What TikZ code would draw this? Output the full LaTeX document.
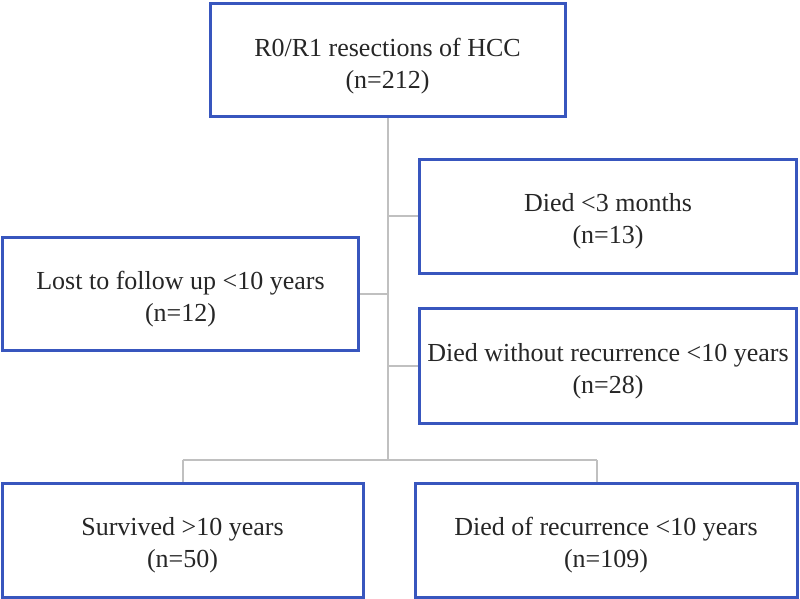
\documentclass[tikz,border=0pt]{standalone}
\usepackage{fontspec}
\setmainfont{Liberation Serif}
\definecolor{boxblue}{RGB}{56,86,190}
\definecolor{linegray}{RGB}{192,192,192}
\newcommand{\twolines}[2]{\begin{tabular}{@{}c@{}}\rule{0pt}{33pt}#1\\#2\end{tabular}}
\begin{document}
\begin{tikzpicture}[x=1pt,y=-1pt,
  box/.style={draw=boxblue, line width=3pt, rectangle, align=center, inner sep=0pt,
    font=\fontsize{26}{32}\selectfont, text=black!85},
  conn/.style={draw=linegray, line width=2pt}]
\useasboundingbox (0,0) rectangle (800,599);
\node[box, minimum width=355, minimum height=113] (top) at (387.5,60.5) {\twolines{R0/R1 resections of HCC}{(n=212)}};
\node[box, minimum width=377, minimum height=114] (d3) at (608,216) {\twolines{Died <3 months}{(n=13)}};
\node[box, minimum width=356, minimum height=113] (lost) at (180.5,293.5) {\twolines{Lost to follow up <10 years}{(n=12)}};
\node[box, minimum width=377, minimum height=115] (dwo) at (608,365.5) {\twolines{Died without recurrence <10 years}{(n=28)}};
\node[box, minimum width=361, minimum height=114] (surv) at (182.5,540) {\twolines{Survived >10 years}{(n=50)}};
\node[box, minimum width=382, minimum height=114] (rec) at (606,540) {\twolines{Died of recurrence <10 years}{(n=109)}};
\coordinate (j) at (387.5,460);
\coordinate (jl) at (182.5,460);
\coordinate (jr) at (597,460);
\draw[conn] (top.south) -- (j);
\draw[conn] (top.south |- d3.west) -- (d3.west);
\draw[conn] (lost.east) -- (lost.east -| top.south);
\draw[conn] (top.south |- dwo.west) -- (dwo.west);
\draw[conn] (jl) -- (jr);
\draw[conn] (jl) -- (surv.north);
\draw[conn] (jr) -- (jr |- rec.north);
\end{tikzpicture}
\end{document}
